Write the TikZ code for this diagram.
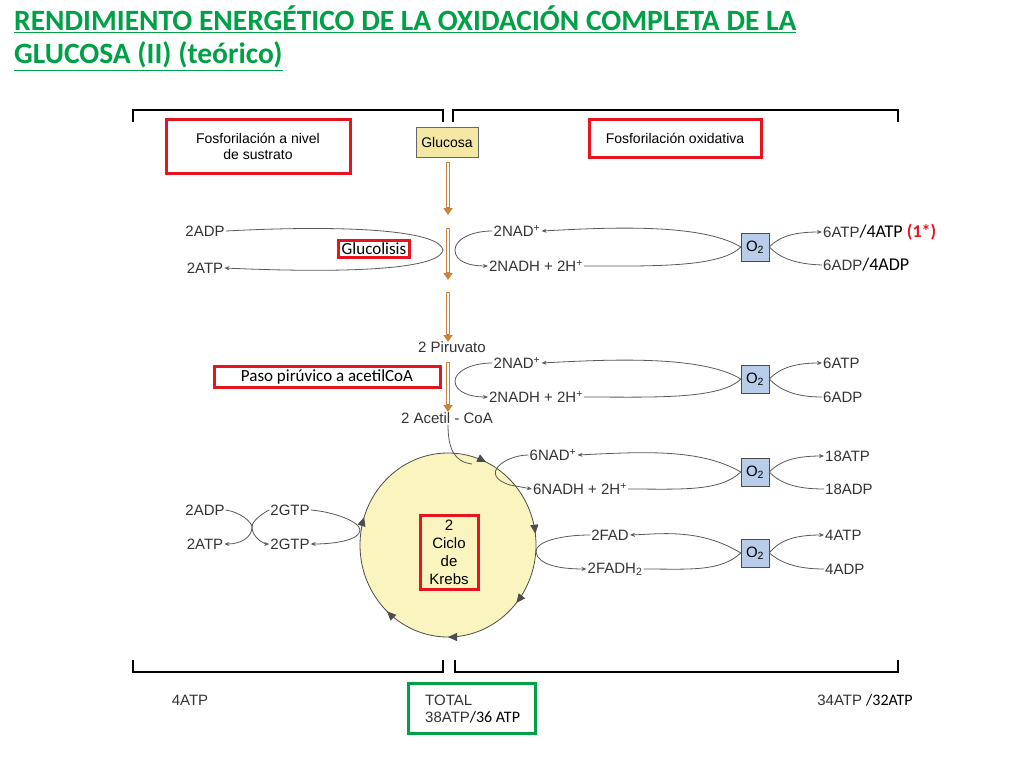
\documentclass[tikz,border=0pt]{standalone}
\usepackage{fontspec}
\setmainfont{Liberation Sans}
\newfontfamily\calib{Carlito}
\usetikzlibrary{decorations.markings,arrows.meta,calc}
\definecolor{tgreen}{RGB}{0,160,70}
\definecolor{rbox}{RGB}{230,20,30}
\definecolor{orng}{RGB}{205,130,60}
\definecolor{glu}{RGB}{245,232,165}
\definecolor{oxy}{RGB}{185,205,235}
\definecolor{krebs}{RGB}{250,244,190}
\begin{document}
\begin{tikzpicture}[x=1pt,y=-1pt,
  lbl/.style={font=\fontsize{15}{17}\selectfont,text=black!80,inner sep=1pt},
  redbox/.style={draw=rbox,line width=3pt,fill=white,inner sep=4pt},
  obox/.style={draw=black!70,fill=oxy,minimum size=28pt,inner sep=0pt,font=\fontsize{15}{16}\selectfont},
  thin/.style={draw=black!65,line width=0.8pt},
  tip/.style={thin,-{Stealth[length=5pt,width=4pt]}},
  shaft/.style={draw=orng,line width=4pt,-{Triangle[length=7pt,width=9pt]}},
  brk/.style={line width=1.3pt}]
\useasboundingbox (0,0) rectangle (1024,768);
% title
\node[anchor=north west,inner sep=0pt,font=\calib\bfseries\fontsize{29.5}{33}\selectfont,text=tgreen,align=left] (title) at (14,6)
 {\underline{RENDIMIENTO ENERGÉTICO DE LA OXIDACIÓN COMPLETA DE LA}\\\underline{GLUCOSA (II) (teórico)}};
% brackets
\draw[brk] (133,122)--(133,110)--(443,110)--(443,122);
\draw[brk] (453,122)--(453,110)--(898,110)--(898,122);
\draw[brk] (133,660)--(133,672)--(443,672)--(443,660);
\draw[brk] (455,660)--(455,672)--(898,672)--(898,660);
% headers
\node[redbox,minimum width=184pt,minimum height=54pt,align=center,font=\fontsize{14}{16}\selectfont] (fs) at (258,146) {Fosforilación a nivel\\de sustrato};
\node[redbox,minimum width=172pt,minimum height=38pt,font=\fontsize{14}{16}\selectfont] (fo) at (675,138) {Fosforilación oxidativa};
\node[draw=black!60,fill=glu,minimum width=62pt,minimum height=30pt,font=\fontsize{14}{16}\selectfont] (glc) at (447,142) {Glucosa};
% orange shafts
\coordinate (s1a) at (448,162); \coordinate (s1b) at (448,215);
\coordinate (s2a) at (448,228); \coordinate (s2b) at (448,280);
\coordinate (s3a) at (448,292); \coordinate (s3b) at (448,342);
\coordinate (s4a) at (448,362); \coordinate (s4b) at (448,412);
\foreach \a/\b in {s1a/s1b,s2a/s2b,s3a/s3b,s4a/s4b}{\draw[shaft] (\a)--(\b); \draw[white,line width=1.2pt] ($(\a)+(0,1)$)--($(\b)+(0,-8)$);}
% row 1
\node[lbl] (adp1) at (205,231) {2ADP};
\node[lbl] (atp1) at (205,268) {2ATP};
\draw[tip] (adp1.east) .. controls (360,224) and (440,232) .. (443,250) .. controls (440,268) and (360,274) .. (atp1.east);
\node[redbox,inner sep=3pt,font=\calib\fontsize{17}{18}\selectfont] (gl) at (374,249) {Glucolisis};
\node[lbl] (nad1) at (517,231) {2NAD\textsuperscript{+}};
\node[lbl] (nadh1) at (536,266) {2NADH + 2H\textsuperscript{+}};
\draw[tip] (nad1.west) .. controls (470,231) and (455,240) .. (455,250) .. controls (455,262) and (470,266) .. (nadh1.west);
\node[obox] (o1) at (755,247) {O\textsubscript{2}};
\draw[tip] (o1.west) .. controls (700,222) and (600,228) .. (nad1.east);
\draw[thin] (nadh1.east) .. controls (650,266) and (720,268) .. (o1.west);
\node[lbl,anchor=west] (atp1r) at (822,232) {6ATP\textcolor{black}{\calib\fontsize{18}{18}\selectfont/4ATP} \textcolor{rbox}{\calib\bfseries\fontsize{18}{18}\selectfont(1*)}};
\node[lbl,anchor=west] (adp1r) at (822,265) {6ADP\textcolor{black}{\calib\fontsize{18}{18}\selectfont/4ADP}};
\draw[tip] (o1.east) .. controls (780,236) and (795,232) .. (atp1r.west);
\draw[thin] (o1.east) .. controls (780,258) and (795,264) .. (adp1r.west);
% row 2
\node[lbl] (pir) at (452,347) {2 Piruvato};
\node[redbox,inner sep=3pt,minimum width=226pt,font=\calib\fontsize{17}{18}\selectfont] (paso) at (327,377) {Paso pirúvico a acetilCoA};
\node[lbl] (nad2) at (517,363) {2NAD\textsuperscript{+}};
\node[lbl] (nadh2) at (536,397) {2NADH + 2H\textsuperscript{+}};
\draw[tip] (nad2.west) .. controls (470,363) and (455,372) .. (455,381) .. controls (455,392) and (470,397) .. (nadh2.west);
\node[obox] (o2) at (755,379) {O\textsubscript{2}};
\draw[tip] (o2.west) .. controls (700,354) and (600,360) .. (nad2.east);
\draw[thin] (nadh2.east) .. controls (650,397) and (720,400) .. (o2.west);
\node[lbl,anchor=west] (atp2r) at (822,363) {6ATP};
\node[lbl,anchor=west] (adp2r) at (822,397) {6ADP};
\draw[tip] (o2.east) .. controls (780,368) and (795,363) .. (atp2r.west);
\draw[thin] (o2.east) .. controls (780,390) and (795,397) .. (adp2r.west);
\node[lbl] (acoa) at (447,418) {2 Acetil - CoA};
% Krebs
\path[draw=black!70,fill=krebs,line width=0.8pt,postaction={decorate},decoration={markings,
  mark=at position 0.07 with {\arrow{Triangle[length=9pt,width=8pt]}},
  mark=at position 0.23 with {\arrow{Triangle[length=9pt,width=8pt]}},
  mark=at position 0.36 with {\arrow{Triangle[length=9pt,width=8pt]}},
  mark=at position 0.50 with {\arrow{Triangle[length=9pt,width=8pt]}},
  mark=at position 0.62 with {\arrow{Triangle[length=9pt,width=8pt]}},
  mark=at position 0.80 with {\arrow{Triangle[length=9pt,width=8pt]}}}]
  (448,453) arc[start angle=-90,end angle=270,x radius=88,y radius=92];
\coordinate (ktop) at (472,464);
\node[redbox,inner sep=2pt,minimum width=58pt,minimum height=74pt,align=center,fill=none,font=\fontsize{15}{18}\selectfont] (kb) at (449,552) {2\\Ciclo\\de\\Krebs};
\draw[thin] ($(acoa.south)+(1,0)$) .. controls (448,450) and (455,462) .. (ktop);
\node[lbl] (nad3) at (553,455) {6NAD\textsuperscript{+}};
\node[lbl] (nadh3) at (580,489) {6NADH + 2H\textsuperscript{+}};
\draw[tip] (nad3.west) .. controls (505,455) and (478,475) .. (510,485) -- (nadh3.west);
\node[obox] (o3) at (755,472) {O\textsubscript{2}};
\draw[tip] (o3.west) .. controls (700,448) and (640,452) .. (nad3.east);
\draw[thin] (nadh3.east) .. controls (680,489) and (720,492) .. (o3.west);
\node[lbl,anchor=west] (atp3r) at (824,456) {18ATP};
\node[lbl,anchor=west] (adp3r) at (824,489) {18ADP};
\draw[tip] (o3.east) .. controls (780,461) and (795,456) .. (atp3r.west);
\draw[thin] (o3.east) .. controls (780,483) and (795,489) .. (adp3r.west);
\node[lbl] (fad) at (610,535) {2FAD};
\node[lbl] (fadh) at (615,569) {2FADH\textsubscript{2}};
\draw[tip] (fad.west) .. controls (560,535) and (535,542) .. (536,552) .. controls (538,565) and (560,569) .. (fadh.west);
\node[obox] (o4) at (755,553) {O\textsubscript{2}};
\draw[tip] (o4.west) .. controls (700,528) and (660,534) .. (fad.east);
\draw[thin] (fadh.east) .. controls (690,569) and (720,572) .. (o4.west);
\node[lbl,anchor=west] (atp4r) at (824,535) {4ATP};
\node[lbl,anchor=west] (adp4r) at (824,569) {4ADP};
\draw[tip] (o4.east) .. controls (780,540) and (795,535) .. (atp4r.west);
\draw[thin] (o4.east) .. controls (780,562) and (795,569) .. (adp4r.west);
% GTP
\node[lbl] (adp5) at (205,510) {2ADP};
\node[lbl] (atp5) at (205,544) {2ATP};
\node[lbl] (gtp1) at (290,510) {2GTP};
\node[lbl] (gtp2) at (290,544) {2GTP};
\draw[tip] (adp5.east) .. controls (240,512) and (252,522) .. (252,527) .. controls (252,538) and (240,544) .. (atp5.east);
\draw[tip] (gtp1.west) .. controls (265,512) and (252,520) .. (252,527) .. controls (252,538) and (265,544) .. (gtp2.west);
\draw[tip] (gtp1.east) .. controls (335,512) and (360,522) .. (360,530) .. controls (360,540) and (335,544) .. (gtp2.east);
% totals
\node[lbl] (t4) at (190,700) {4ATP};
\node[draw=tgreen,line width=3pt,minimum width=127pt,minimum height=50pt] (tot) at (472,708) {};
\node[lbl,anchor=west,align=left] (tt) at (424,709) {TOTAL\\38ATP\textcolor{black}{\calib\fontsize{16}{17}\selectfont/36 ATP}};
\node[lbl] (t34) at (865,700) {34ATP \textcolor{black}{\calib\fontsize{16}{17}\selectfont/32ATP}};
\end{tikzpicture}
\end{document}
